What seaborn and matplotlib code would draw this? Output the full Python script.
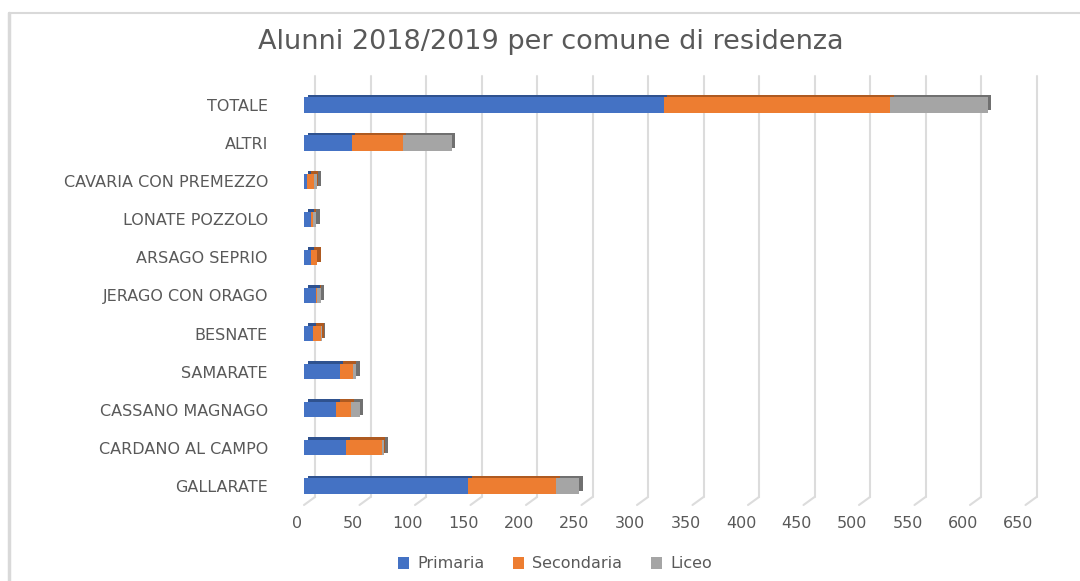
import numpy as np
import pandas as pd
import matplotlib
matplotlib.use("Agg")
import matplotlib.pyplot as plt
import matplotlib.patheffects as pe
from matplotlib.patches import Patch
from matplotlib.lines import Line2D
from matplotlib.transforms import ScaledTranslation
import seaborn as sns

# ==========================================
# DATA
# ==========================================
comuni = ["TOTALE", "ALTRI", "CAVARIA CON PREMEZZO", "LONATE POZZOLO",
          "ARSAGO SEPRIO", "JERAGO CON ORAGO", "BESNATE", "SAMARATE",
          "CASSANO MAGNAGO", "CARDANO AL CAMPO", "GALLARATE"]
primaria = [324, 43, 3, 6, 6, 11, 8, 32, 29, 38, 148]
secondaria = [204, 46, 6, 2, 6, 1, 7, 12, 13, 32, 79]
liceo = [88, 44, 3, 3, 0, 3, 1, 3, 8, 2, 21]
series_names = ["Primaria", "Secondaria", "Liceo"]
x_ticks = list(range(0, 651, 50))

COLORS = ["#4472C4", "#ED7D31", "#A5A5A5"]
DARK = ["#2F528F", "#AE5A21", "#707070"]
TXT = "#595959"
GRID = "#DCDCDC"

df = pd.DataFrame({"comune": comuni, "Primaria": primaria,
                   "Secondaria": secondaria, "Liceo": liceo})
df["left_sec"] = df["Primaria"]
df["left_lic"] = df["Primaria"] + df["Secondaria"]

sns.set_theme(style="white")
plt.rcParams["font.family"] = ["DejaVu Sans"]

fig = plt.figure(figsize=(10.8, 5.81), dpi=100)
W, H = 1080, 581
ax = fig.add_axes([304 / W, 76 / H, (1025.5 - 304) / W, (505 - 76) / H])

lefts = [None, df["left_sec"].values, df["left_lic"].values]
for name, col, left in zip(series_names, COLORS, lefts):
    kw = {} if left is None else {"left": left}
    sns.barplot(data=df, y="comune", x=name, order=comuni, color=col,
                width=0.4, errorbar=None, saturation=1, ax=ax, **kw)

# fake 3D depth: dark offset copy of every bar
for cont, dark in zip(ax.containers, DARK):
    for p in cont.patches:
        p.set_linewidth(0)
        p.set_path_effects([pe.SimplePatchShadow(offset=(2.6, 2.0), shadow_rgbFace=dark, alpha=1),
                            pe.Normal()])

ax.set_xlim(0, 650)
ax.set_ylim(10.5, -0.76)
ax.set_xticks(x_ticks)
ax.set_xlabel("")
ax.set_ylabel("")
sns.despine(ax=ax, left=True, bottom=True)
ax.grid(axis="x", color=GRID, linewidth=1.5)
ax.set_axisbelow(True)
ax.tick_params(axis="x", length=0, pad=8, labelsize=11.5, labelcolor=TXT)
ax.tick_params(axis="y", length=0, pad=26, labelsize=11.5, labelcolor=TXT)

# back-wall grid sits a bit to the right, front labels a bit to the left
shift_grid = ScaledTranslation(11 / 100, 8 / 100, fig.dpi_scale_trans)
shift_lab = ScaledTranslation(-7 / 100, 0, fig.dpi_scale_trans)
for t in ax.xaxis.get_major_ticks():
    t.gridline.set_transform(t.gridline.get_transform() + shift_grid)
    t.gridline.set_ydata([0, 1 - 8 / 429])
    t.gridline.set_clip_on(False)
    t.label1.set_transform(t.label1.get_transform() + shift_lab)

# floor diagonals joining the front edge to the back grid
for xt in x_ticks:
    ax.annotate("", xy=(xt, 0), xycoords=("data", "axes fraction"),
                xytext=(11, 8), textcoords="offset pixels",
                arrowprops=dict(arrowstyle="-", color=GRID, lw=1.5, shrinkA=0, shrinkB=0),
                annotation_clip=False, zorder=0)

fig.text(551 / W, 1 - 42 / H, "Alunni 2018/2019 per comune di residenza",
         ha="center", va="center", fontsize=19.5, color=TXT)

handles = [Patch(facecolor=c, edgecolor="none") for c in COLORS]
fig.legend(handles, series_names, loc="center", bbox_to_anchor=(555 / W, 1 - 564 / H),
           ncol=3, frameon=False, fontsize=11.5, labelcolor=TXT,
           handlelength=0.7, handleheight=0.7, columnspacing=1.8, handletextpad=0.5)

# chart frame
fig.add_artist(Line2D([9 / W, 9 / W], [0, 1 - 13 / H], color="#D9D9D9", linewidth=2.5))
fig.add_artist(Line2D([9 / W, 1], [1 - 13 / H, 1 - 13 / H], color="#D9D9D9", linewidth=1.5))

fig.savefig("out.png", dpi=100)
